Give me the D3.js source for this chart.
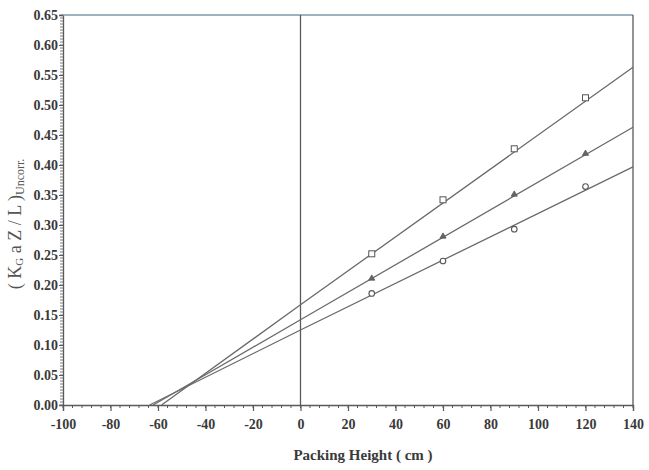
<!DOCTYPE html>
<html><head><meta charset="utf-8">
<script src="https://cdn.jsdelivr.net/npm/d3@7"></script>
<style>body{margin:0;background:#fff}svg{display:block}</style>
</head><body><svg id="c" width="649" height="470"></svg>
<script>
// Data
const packingHeights = [30, 60, 90, 120];
const squareValues = [0.252, 0.342, 0.427, 0.512];
const triangleValues = [0.211, 0.281, 0.351, 0.419];
const circleValues = [0.186, 0.240, 0.293, 0.364];
// fitted lines: [x, y] endpoints
const squareFit = [[-58.5, 0], [0, 0.167], [140, 0.563]];
const triangleFit = [[-62, 0], [0, 0.142], [140, 0.463]];
const circleFit = [[-63.5, 0], [0, 0.125], [140, 0.397]];
const xTicks = [-100, -80, -60, -40, -20, 0, 20, 40, 60, 80, 100, 120, 140];
const yTicks = [0, 0.05, 0.10, 0.15, 0.20, 0.25, 0.30, 0.35, 0.40, 0.45, 0.50, 0.55, 0.60, 0.65];

const svg = d3.select("#c");
const m = {l: 63, r: 16, t: 15, b: 65};
const W = 649, H = 470;
const x = d3.scaleLinear().domain([-100, 140]).range([m.l, W - m.r]);
const y = d3.scaleLinear().domain([0, 0.65]).range([H - m.b, m.t]);
const ink = "#5a5a5a", txt = "#3a3a3a";

// minor ticks
const xMinor = d3.range(-100, 140.01, 4);
svg.append("g").selectAll("line").data(xMinor).join("line")
  .attr("x1", d => x(d)).attr("x2", d => x(d))
  .attr("y1", y(0)).attr("y2", y(0) + 3).attr("stroke", ink).attr("stroke-width", 1);
const yMinor = d3.range(0, 0.6501, 0.005);
svg.append("g").selectAll("line").data(yMinor).join("line")
  .attr("x1", x(-100) - 3).attr("x2", x(-100))
  .attr("y1", d => y(d)).attr("y2", d => y(d)).attr("stroke", ink).attr("stroke-width", 0.8);

// axes
const xAxis = d3.axisBottom(x).tickValues(xTicks).tickSize(6).tickPadding(8).tickFormat(d => String(d));
const gx = svg.append("g").attr("transform", `translate(0,${y(0)})`).call(xAxis);
gx.select(".domain").attr("stroke", ink).attr("stroke-width", 1.3);
gx.selectAll(".tick line").attr("stroke", ink).attr("stroke-width", 1.2);
gx.selectAll("text").attr("font-family", "Liberation Serif").attr("font-weight", "bold")
  .attr("font-size", 14).attr("fill", txt);

const yAxis = d3.axisLeft(y).tickValues(yTicks).tickSize(4).tickPadding(1).tickFormat(d3.format(".2f"));
const gy = svg.append("g").attr("transform", `translate(${x(-100)},0)`).call(yAxis);
gy.select(".domain").attr("stroke", ink).attr("stroke-width", 1.3);
gy.selectAll(".tick line").attr("stroke", ink);
gy.selectAll("text").attr("font-family", "Liberation Serif").attr("font-weight", "bold")
  .attr("font-size", 14).attr("fill", txt);

// frame: top and right, zero line
svg.append("line").attr("x1", x(-100)).attr("x2", x(140)).attr("y1", y(0.65)).attr("y2", y(0.65))
  .attr("stroke", "#7d97a8").attr("stroke-width", 1.3);
svg.append("line").attr("x1", x(140)).attr("x2", x(140)).attr("y1", y(0.65)).attr("y2", y(0))
  .attr("stroke", ink).attr("stroke-width", 1.3);
svg.append("line").attr("x1", x(0)).attr("x2", x(0)).attr("y1", y(0.65)).attr("y2", y(0))
  .attr("stroke", ink).attr("stroke-width", 1.3);

// fit lines
const line = d3.line().x(d => x(d[0])).y(d => y(d[1]));
[squareFit, triangleFit, circleFit].forEach(f => {
  svg.append("path").attr("d", line(f)).attr("fill", "none").attr("stroke", "#6a6a6a").attr("stroke-width", 1.3);
});

// markers
const pts = (vals) => packingHeights.map((h, i) => [h, vals[i]]);
svg.append("g").selectAll("rect").data(pts(squareValues)).join("rect")
  .attr("x", d => x(d[0]) - 3).attr("y", d => y(d[1]) - 3).attr("width", 6).attr("height", 6)
  .attr("fill", "#fff").attr("stroke", "#555").attr("stroke-width", 1);
svg.append("g").selectAll("path").data(pts(triangleValues)).join("path")
  .attr("d", d3.symbol(d3.symbolTriangle, 16))
  .attr("transform", d => `translate(${x(d[0])},${y(d[1])})`)
  .attr("fill", "#666").attr("stroke", "#555").attr("stroke-width", 0.8);
svg.append("g").selectAll("circle").data(pts(circleValues)).join("circle")
  .attr("cx", d => x(d[0])).attr("cy", d => y(d[1])).attr("r", 2.8)
  .attr("fill", "#fff").attr("stroke", "#555").attr("stroke-width", 1.1);

// titles
svg.append("text").attr("x", 363).attr("y", 460).attr("text-anchor", "middle")
  .attr("font-family", "Liberation Serif").attr("font-weight", "bold").attr("font-size", 15)
  .attr("fill", txt).text("Packing Height ( cm )");
const yt = svg.append("text").attr("transform", "translate(21,224) rotate(-90)").attr("text-anchor", "middle")
  .attr("font-family", "Liberation Serif").attr("font-size", 18).attr("fill", "#555");
yt.append("tspan").text("( K");
yt.append("tspan").attr("font-size", 11).attr("dy", 2).text("G");
yt.append("tspan").attr("dy", -2).text(" a Z / L )");
yt.append("tspan").attr("font-size", 12).attr("dy", 3).text("Uncorr.");
</script></body></html>
